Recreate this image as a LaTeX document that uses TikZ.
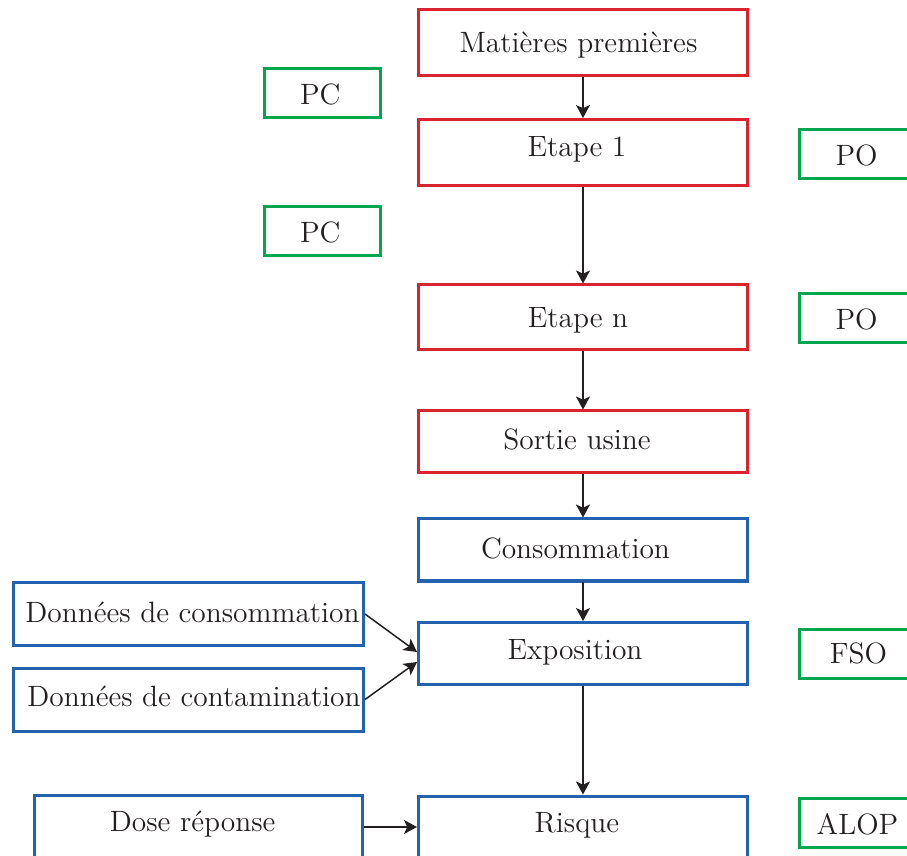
\documentclass[tikz,border=0pt]{standalone}
\usetikzlibrary{arrows.meta}
\definecolor{cred}{RGB}{217,35,46}
\definecolor{cgreen}{RGB}{0,167,79}
\definecolor{cblue}{RGB}{35,98,175}
\definecolor{ctext}{RGB}{35,31,32}
\newcommand\ptxt[3]{\raisebox{#2}{\hbox to 0pt{\hss\kern#1\relax#3\hss}}}
\tikzset{
  basebox/.style={draw, line width=1.5pt, inner sep=0pt, text=ctext,
    font=\fontsize{14.7}{17.5}\selectfont, text height=10.04pt, text depth=0pt},
  redbox/.style={basebox, draw=cred, minimum width=164.5pt},
  bluebox/.style={basebox, draw=cblue, minimum width=164.5pt, minimum height=31pt},
  greenbox/.style={basebox, draw=cgreen, minimum width=58pt, minimum height=24.5pt},
  databox/.style={basebox, draw=cblue, minimum width=175pt, minimum height=31.5pt},
  arr/.style={draw=ctext, line width=0.75pt, -{Stealth[length=6.5pt,width=7pt,inset=1.6pt]}}
}
\begin{document}
\begin{tikzpicture}[x=0.5pt, y=-0.5pt]
\clip (0,0) rectangle (907,856);
\fill[white] (0,0) rectangle (907,856);
% red column
\node[redbox, minimum height=33pt] (mp) at (583,42.5) {\ptxt{-4.5pt}{0pt}{Matières premières}};
\node[redbox, minimum height=33pt] (e1) at (583,152.5) {\ptxt{-6pt}{3.25pt}{Etape 1}};
\node[redbox, minimum height=32.5pt] (en) at (583,317.5) {\ptxt{-5pt}{0pt}{Etape n}};
\node[redbox, minimum height=31pt] (su) at (583,442) {\ptxt{-6pt}{1.25pt}{Sortie usine}};
% blue column
\node[bluebox] (co) at (583,550) {\ptxt{-7.5pt}{0.75pt}{Consommation}};
\node[bluebox] (ex) at (583,653.5) {\ptxt{-8pt}{2pt}{Exposition}};
\node[bluebox] (ri) at (583,827) {\ptxt{-6pt}{2.5pt}{Risque}};
% data boxes
\node[databox] (dc) at (188.5,614) {\ptxt{4pt}{1pt}{Données de consommation}};
\node[databox] (dt) at (188.5,699.5) {\ptxt{5.5pt}{1.4pt}{Données de contamination}};
\node[databox, minimum width=164pt] (dr) at (198.7,827) {\ptxt{-6pt}{2.75pt}{Dose réponse}};
% green boxes
\node[greenbox] (pc1) at (322.2,93.5) {\ptxt{-2pt}{-0.5pt}{PC}};
\node[greenbox] (pc2) at (322.2,231.5) {\ptxt{-2pt}{-0.5pt}{PC}};
\node[greenbox] (po1) at (857.5,154) {\ptxt{-1pt}{-0.5pt}{PO}};
\node[greenbox] (po2) at (857.5,318) {\ptxt{-1pt}{-0.5pt}{PO}};
\node[greenbox] (fso) at (857.5,653.5) {\ptxt{1pt}{0pt}{FSO}};
\node[greenbox] (alop) at (857.5,823) {\ptxt{0pt}{-0.5pt}{ALOP}};
% connectors
\draw[arr] (mp) -- (e1);
\draw[arr] (e1) -- (en);
\draw[arr] (en) -- (su);
\draw[arr] (su) -- (co);
\draw[arr] (co) -- (ex);
\draw[arr] (ex) -- (ri);
\draw[arr] (dc.east) -- ([yshift=0.75pt]ex.west);
\draw[arr] (dt.east) -- ([yshift=-4.25pt]ex.west);
\draw[arr] (dr.east) -- (ri.west);
\end{tikzpicture}
\end{document}
